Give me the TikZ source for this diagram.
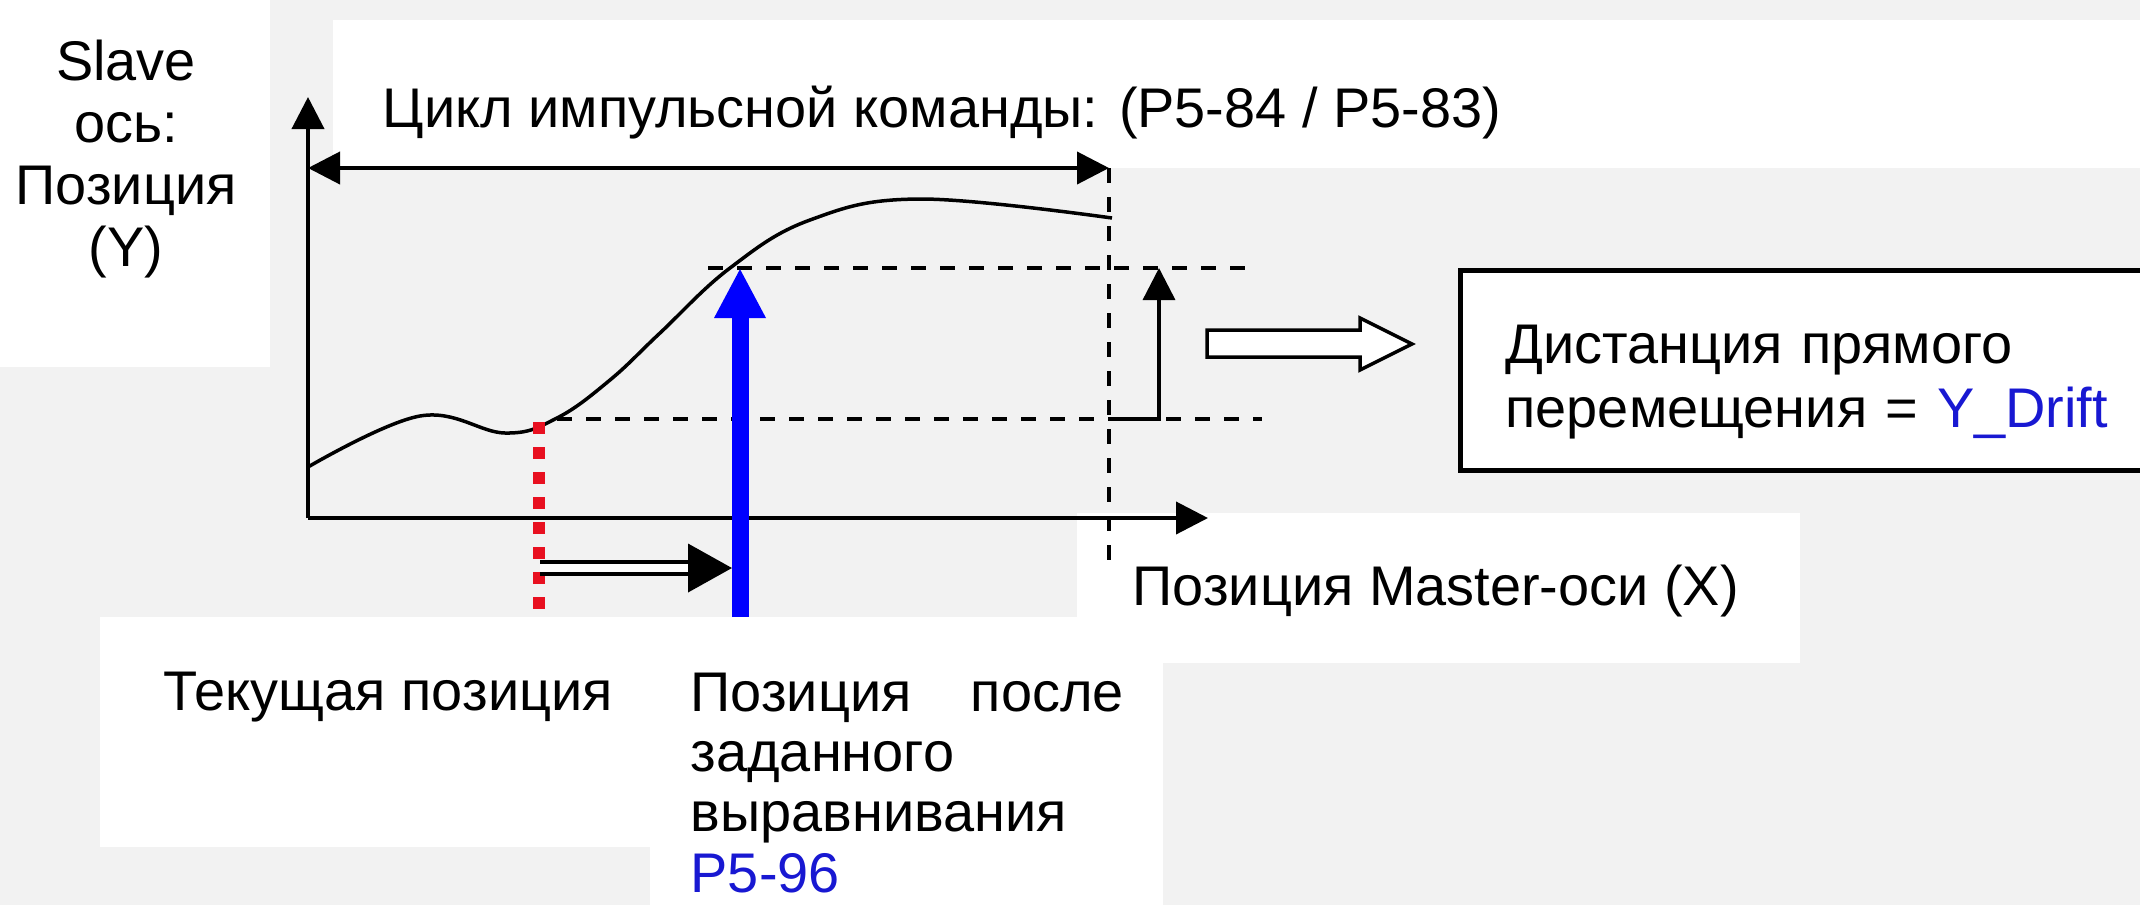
\documentclass[tikz,border=0pt]{standalone}
\usepackage{fontspec}
\setmainfont{Liberation Sans}
\usetikzlibrary{arrows.meta}
\definecolor{bggray}{RGB}{242,242,242}
\definecolor{cursorred}{RGB}{232,16,32}
\definecolor{alignblue}{RGB}{0,0,255}
\definecolor{parblue}{RGB}{24,24,210}
\newcommand{\figfont}{\fontsize{15.9pt}{18.2pt}\selectfont}

\begin{document}
\begin{tikzpicture}[
    axis/.style={line width=0.04cm, -{Triangle[length=0.32cm, width=0.32cm]}},
    guide/.style={line width=0.035cm, dash pattern=on 0.15cm off 0.14cm},
    lbl/.style={font=\figfont, inner sep=0pt},
    patch/.style={fill=white}
  ]
  \useasboundingbox (0,0) rectangle (21.4,9.05);
  \fill[bggray] (0,0) rectangle (21.4,9.05);
  % white label areas
  \fill[patch] (0,5.38) rectangle (2.70,9.05);
  \fill[patch] (3.33,7.37) rectangle (21.4,8.85);
  \fill[patch] (10.77,2.42) rectangle (18.0,3.92);
  \fill[patch] (1.00,0.58) rectangle (10.86,2.88);
  \fill[patch] (6.50,0) rectangle (11.63,2.88);

  % axes and marks
  \coordinate (O) at (3.08,3.87);
  \coordinate (ytip) at (3.08,8.08);
  \coordinate (xtip) at (12.08,3.87);
  \coordinate (cycL) at (3.08,7.37);
  \coordinate (cycR) at (11.09,7.37);
  \coordinate (cycB) at (11.09,3.42);
  \coordinate (lowL) at (5.57,4.86);
  \coordinate (lowR) at (12.62,4.86);
  \coordinate (upL) at (7.08,6.37);
  \coordinate (upR) at (12.50,6.37);
  \coordinate (driftC) at (11.09,4.86);
  \coordinate (driftB) at (11.59,4.86);
  \coordinate (driftT) at (11.59,6.37);
  \coordinate (curTop) at (5.39,4.83);
  \coordinate (curBot) at (5.39,2.93);
  \coordinate (alnBot) at (7.40,2.88);
  \coordinate (alnTop) at (7.40,6.37);
  \coordinate (shiftL) at (5.40,3.37);
  \coordinate (shiftR) at (7.32,3.37);

  \draw[axis] (O) -- (ytip);
  \draw[axis] (O) -- (xtip);
  \draw[line width=0.04cm, {Triangle[length=0.32cm, width=0.32cm]}-{Triangle[length=0.32cm, width=0.32cm]}] (cycL) -- (cycR);
  \draw[guide] (cycR) -- (cycB);
  \draw[guide] (lowL) -- (lowR);
  \draw[guide] (upL) -- (upR);
  \draw[line width=0.035cm, -{Triangle[length=0.32cm, width=0.32cm]}] (driftC) -- (driftB) -- (driftT);

  % slave position curve
  \draw[line width=0.035cm] plot[smooth, tension=0.65] coordinates {
    (3.08,4.38) (4.20,4.89) (5.05,4.72) (5.57,4.87) (6.10,5.25) (6.60,5.72)
    (7.30,6.37) (8.10,6.85) (9.20,7.06) (11.12,6.87)};

  \draw[cursorred, line width=0.12cm, dash pattern=on 0.12cm off 0.13cm] (curTop) -- (curBot);
  \draw[alignblue, line width=0.17cm, -{Triangle[length=0.5cm, width=0.48cm]}] (alnBot) -- (alnTop);
  \draw[line width=0.04cm, double, double distance=0.08cm, shorten >=0.42cm] (shiftL) -- (shiftR);
  \draw[line width=0.04cm, shorten <=1.5cm, -{Triangle[length=0.44cm, width=0.48cm]}] (shiftL) -- (shiftR);

  \draw[line width=0.035cm, fill=white] (12.07,5.75) -- (13.60,5.75) -- (13.60,5.87) -- (14.12,5.61)
    -- (13.60,5.35) -- (13.60,5.48) -- (12.07,5.48) -- cycle;

  % labels
  \node[lbl, anchor=base, align=center, font=\fontsize{15.9pt}{17.6pt}\selectfont] (ylbl) at (1.26,6.39)
    {Slave\\ось:\\Позиция\\(Y)};
  \node[lbl, anchor=base west] (cyclbl) at (3.82,7.78) {Цикл импульсной команды: (P5-84 / P5-83)};
  \node[lbl, anchor=base west] (xlbl) at (11.32,3.00) {Позиция Master-оси (X)};
  \node[lbl, anchor=base west] (curlbl) at (1.63,1.95) {Текущая позиция};
  \node[lbl, anchor=base west, align=left, font=\fontsize{15.9pt}{17.1pt}\selectfont] (alnlbl) at (6.90,0.13)
    {\makebox[4.33cm][s]{Позиция\hfill после}\\заданного\\выравнивания\\\textcolor{parblue}{P5-96}};
  \node[lbl, draw, line width=0.05cm, fill=white, anchor=north west, minimum width=7.2cm,
    minimum height=2.0cm, text width=6.3cm, inner xsep=0.45cm, align=left] (drift) at (14.58,6.37)
    {\rule{0pt}{0.62cm}Дистанция прямого\\перемещения = \textcolor{parblue}{Y\_Drift}};
\end{tikzpicture}
\end{document}
